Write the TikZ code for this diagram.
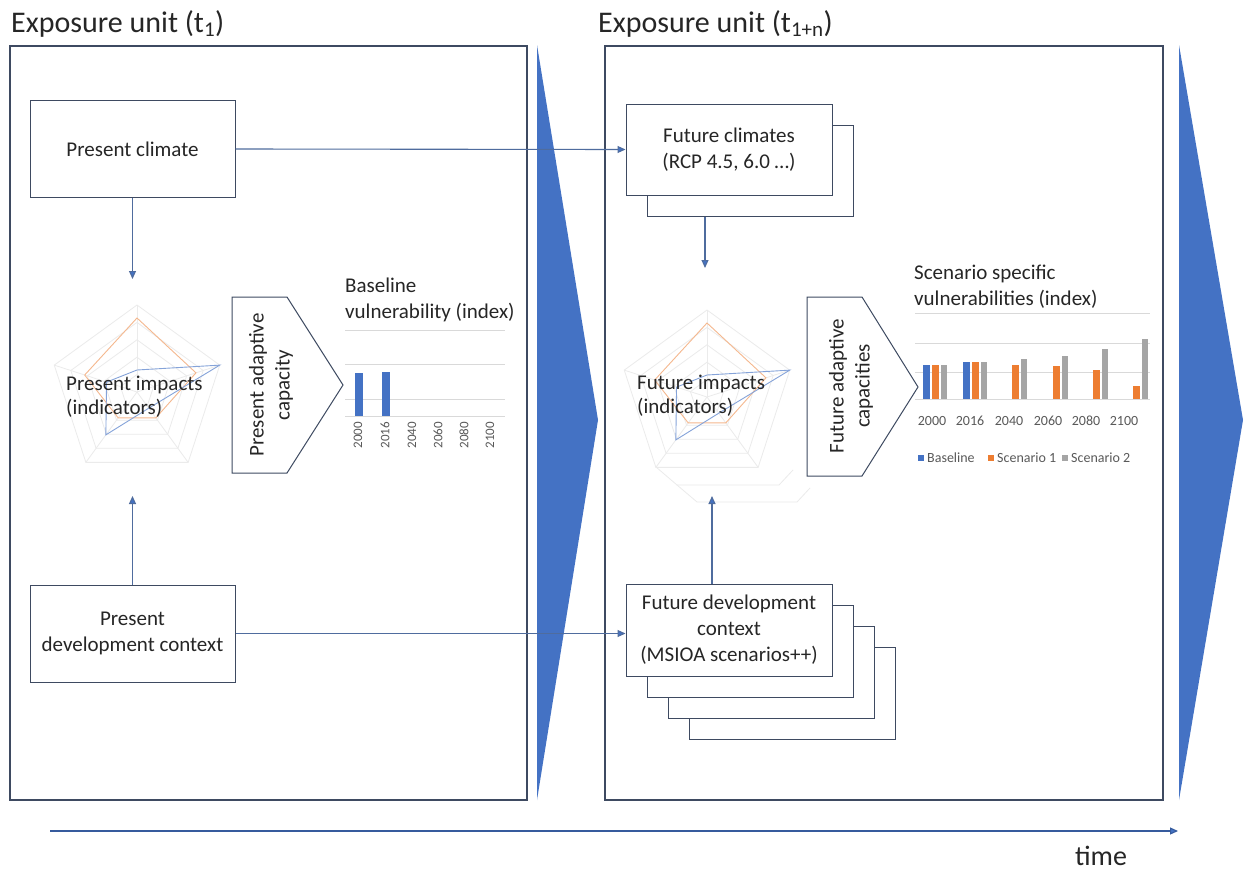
\documentclass[tikz,border=0pt]{standalone}
\usepackage{fontspec}
\setmainfont{Carlito}
\usetikzlibrary{arrows.meta,calc}
\definecolor{boxc}{HTML}{3E4A61}
\definecolor{connc}{HTML}{4F6C9E}
\definecolor{cblue}{HTML}{4472C4}
\definecolor{corange}{HTML}{ED7D31}
\definecolor{cgray}{HTML}{A5A5A5}
\definecolor{txtc}{HTML}{262626}
\definecolor{labc}{HTML}{595959}
\newcommand\myradar[1]{%
  \begin{scope}[shift={(#1)}]
    \foreach \k in {1,...,5}{%
      \pgfmathsetmacro\rr{\k*17.4}
      \draw[gridc] (270:\rr) -- (342:\rr) -- (54:\rr) -- (126:\rr) -- (198:\rr) -- cycle;
    }
    \foreach \a in {270,342,54,126,198}{\draw[gridc] (0,0) -- (\a:87);}
    \draw[corange!55, line width=0.9pt] (270:74) -- (342:62) -- (54:32) -- (126:32) -- (198:55) -- cycle;
    \draw[cblue!65, line width=0.9pt] (270:22) -- (342:87) -- (54:20) -- (126:53) -- (198:32) -- cycle;
  \end{scope}}
\begin{document}
\begin{tikzpicture}[x=1pt,y=-1pt, font=\fontsize{21}{26}\selectfont, text=txtc,
  box/.style={draw=boxc, line width=1pt, fill=white, minimum width=205pt, minimum height=97pt, align=center, inner sep=2pt},
  frame/.style={draw=boxc, line width=1.2pt},
  arrowc/.style={draw=connc, line width=1.1pt, -{Triangle[length=8pt,width=7pt,fill=cblue]}},
  gridc/.style={draw=gray!16, line width=0.8pt},
  gridc2/.style={draw=gray!30, line width=0.8pt},
  lab/.style={text=labc, font=\fontsize{14}{14}\selectfont, inner sep=0pt},
  chev/.style={fill=cblue, draw=none}]
\useasboundingbox (0,0) rectangle (1245,870);
\fill[white] (0,0) rectangle (1245,870);

% titles
\node[anchor=base west, font=\fontsize{30}{32}\selectfont, inner sep=0pt] (title1) at (11,32) {Exposure unit (t\textsubscript{1})};
\node[anchor=base west, font=\fontsize{30}{32}\selectfont, inner sep=0pt] (title2) at (598,32) {Exposure unit (t\textsubscript{1+n})};

% frames and chevrons
\draw[frame] (10,46) rectangle (527,800);
\draw[frame] (605,46) rectangle (1163,800);
\path[chev] (537,45) -- (598,420) -- (537,800) -- cycle;
\path[chev] (1179,45) -- (1243,420) -- (1179,800) -- cycle;

% radar charts
\myradar{137,392}
\begin{scope}
  \draw[gridc] (656,467) -- (677,485) -- (779,485) -- (793,470);
  \draw[gridc] (677,485) -- (697,502) -- (797,502) -- (810,488);
\end{scope}
\myradar{707,397}
\node[anchor=base west, align=left, inner sep=0pt, font=\fontsize{21}{24}\selectfont] (pimp) at (66,414) {Present impacts\\(indicators)};
\node[anchor=base west, align=left, inner sep=0pt, font=\fontsize{21}{24}\selectfont] (fimp) at (637,413) {Future impacts\\(indicators)};
\coordinate (r1top) at (132.5,279);
\coordinate (r1bot) at (132.5,496);
\coordinate (r2top) at (705,268);
\coordinate (r2bot) at (712,496);

% left boxes
\node[box] (pc) at (132.5,149) {Present climate};
\node[box] (pd) at (132.5,633.5) {Present\\development context};

% future climates stack
\node[box, minimum width=206pt, minimum height=91pt] (fcb) at (750,170.5) {};
\node[box, minimum width=206pt, minimum height=91pt] (fc) at (729,149.5) {Future climates\\(RCP 4.5, 6.0 \ldots)};

% future development stack
\node[box, minimum width=206pt, minimum height=92pt] (fd3) at (792,693) {};
\node[box, minimum width=206pt, minimum height=92pt] (fd2) at (771,672) {};
\node[box, minimum width=206pt, minimum height=92pt] (fd1) at (750,651) {};
\node[box, minimum width=206pt, minimum height=92pt, font=\fontsize{21}{26}\selectfont] (fd) at (729,630) {Future development\\context\\(MSIOA scenarios++)};

% connectors
\draw[arrowc] (pc) -- (r1top);
\draw[arrowc] (pd) -- (r1bot);
\draw[arrowc] (pc.east) -- (fc.west);
\draw[arrowc] (pd.east) -- (pd.east -| fd.west);
\draw[arrowc] (r2top |- fcb.south) -- (r2top);
\draw[arrowc] (r2bot |- fd.north) -- (r2bot);

% adaptive capacity shapes
\draw[boxc, line width=1pt, fill=white] (232,297) -- (287,297) -- (343,385) -- (287,473) -- (232,473) -- cycle;
\node[rotate=90, align=center, inner sep=0pt] (pac) at (271,385) {Present adaptive\\capacity};
\draw[boxc, line width=1pt, fill=white] (807,297) -- (862,297) -- (918,387) -- (862,476) -- (807,476) -- cycle;
\node[rotate=90, align=center, inner sep=0pt] (fac) at (851,386) {Future adaptive\\capacities};

% left bar chart
\node[anchor=base west, align=left, inner sep=0pt] (bvt) at (345,318) {Baseline\\vulnerability (index)};
\foreach \yy in {330,364,399,416} {\draw[gridc2] (345,\yy) -- (505,\yy);}
\fill[cblue] (355,373) rectangle (363,416);
\fill[cblue] (382,372) rectangle (390,416);
\foreach \yr/\xx in {2000/358,2016/385,2040/412,2060/438,2080/464,2100/490}
  {\node[lab, rotate=90, anchor=east, font=\fontsize{13}{13}\selectfont] (yl\yr) at (\xx,422) {\yr};}

% right bar chart
\node[anchor=base west, align=left, inner sep=0pt] (svt) at (914,305) {Scenario specific\\vulnerabilities (index)};
\foreach \yy in {313,343,372,399} {\draw[gridc2] (915,\yy) -- (1150,\yy);}
\foreach \k/\b/\o/\g in {0/34/34/34,1/37/37/37,2/0/34/40,3/0/33/43,4/0/29/50,5/0/13/60}{
  \pgfmathsetmacro\c{935+40.2*\k}
  \ifnum\b>0 \fill[cblue] (\c-12,399-\b) rectangle (\c-5,399); \fi
  \fill[corange] (\c-3,399-\o) rectangle (\c+4,399);
  \fill[cgray] (\c+6,399-\g) rectangle (\c+12,399);
}
\foreach \yr/\xx in {2000/932,2016/970,2040/1009,2060/1048,2080/1086,2100/1124}
  {\node[lab] (yr\yr) at (\xx,421) {\yr};}
% legend
\fill[cblue] (918,455) rectangle (924,461);
\node[lab, anchor=west] (lg1) at (927,458) {Baseline};
\fill[corange] (988,455) rectangle (994,461);
\node[lab, anchor=west] (lg2) at (997,458) {Scenario 1};
\fill[cgray] (1062,455) rectangle (1068,461);
\node[lab, anchor=west] (lg3) at (1071,458) {Scenario 2};

% time axis
\coordinate (t0) at (50,831);
\coordinate (t1) at (1178,831);
\draw[arrowc, draw=cblue!80!black] (t0) -- (t1);
\node[font=\fontsize{28}{30}\selectfont, anchor=base] (time) at (1101,865) {time};
\end{tikzpicture}
\end{document}
